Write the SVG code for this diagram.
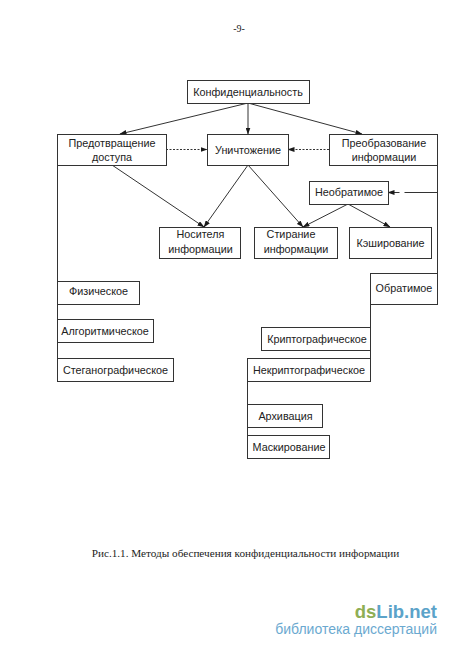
<svg xmlns="http://www.w3.org/2000/svg" width="450" height="650" viewBox="0 0 450 650">
<style>
.b{fill:#fff;stroke:#333;stroke-width:1}
.t{font-family:"Liberation Sans",Arial,sans-serif;font-size:10.800px;fill:#222;text-anchor:middle}
.s{font-family:"Liberation Serif","Times New Roman",serif;fill:#222;text-anchor:middle}
.l{fill:none;stroke:#333;stroke-width:1}
.d{stroke-dasharray:2 1.500}
</style>
<defs>
<marker id="a" markerWidth="7" markerHeight="5" refX="6.500" refY="2.500" orient="auto" markerUnits="userSpaceOnUse"><path d="M0 0L7 2.500L0 5Z" fill="#1a1a1a"/></marker>
</defs>
<rect width="450" height="650" fill="#fff"/>
<text class="s" x="239" y="32" font-size="10">-9-</text>
<g id="connectors">
<path class="l" marker-end="url(#a)" d="M248 103L120 134"/>
<path class="l" marker-end="url(#a)" d="M248 103V134"/>
<path class="l" marker-end="url(#a)" d="M248 103L362 134"/>
<path class="l d" marker-end="url(#a)" d="M166 149.500H207"/>
<path class="l d" marker-end="url(#a)" d="M329 149.500H288"/>
<path class="l" marker-end="url(#a)" d="M112 165L204 227"/>
<path class="l" marker-end="url(#a)" d="M248 165L204 227"/>
<path class="l" marker-end="url(#a)" d="M248 165L303 227"/>
<path class="l" marker-end="url(#a)" d="M348 204L303 227"/>
<path class="l" marker-end="url(#a)" d="M348 204L390 227"/>
<path class="l" stroke-dasharray="33 5 11" marker-end="url(#a)" d="M437.500 192.500H388"/>
<path class="l" d="M57.500 165V358M437.500 165V273M370.500 304V358M247.500 381V436"/>
</g>
<g id="n-conf"><rect class="b" x="187.500" y="80.500" width="122" height="23"/><text class="t" x="248" y="96">Конфиденциальность</text></g>
<g id="n-pred"><rect class="b" x="57.500" y="134.500" width="109" height="31"/><text class="t" x="112" y="146.500">Предотвращение</text><text class="t" x="112" y="160.500">доступа</text></g>
<g id="n-unich"><rect class="b" x="207.500" y="134.500" width="81" height="31"/><text class="t" x="248" y="153.500">Уничтожение</text></g>
<g id="n-preob"><rect class="b" x="329.500" y="134.500" width="108" height="31"/><text class="t" x="384" y="146.500">Преобразование</text><text class="t" x="384" y="160.500">информации</text></g>
<g id="n-neobr"><rect class="b" x="309.500" y="181.500" width="79" height="23"/><text class="t" x="349" y="196">Необратимое</text></g>
<g id="n-nos"><rect class="b" x="159.500" y="227.500" width="81" height="31"/><text class="t" x="200.500" y="238">Носителя</text><text class="t" x="200.500" y="253">информации</text></g>
<g id="n-stir"><rect class="b" x="254.500" y="227.500" width="83" height="31"/><text class="t" x="291" y="238">Стирание</text><text class="t" x="296" y="253">информации</text></g>
<g id="n-kesh"><rect class="b" x="349.500" y="227.500" width="82" height="31"/><text class="t" x="390.500" y="246.500">Кэширование</text></g>
<g id="n-fiz"><rect class="b" x="57.500" y="281.500" width="82" height="23"/><text class="t" x="98.500" y="295">Физическое</text></g>
<g id="n-alg"><rect class="b" x="57.500" y="319.500" width="96" height="23"/><text class="t" x="105" y="334.500">Алгоритмическое</text></g>
<g id="n-steg"><rect class="b" x="57.500" y="358.500" width="116" height="23"/><text class="t" x="115.500" y="374">Стеганографическое</text></g>
<g id="n-obr"><rect class="b" x="370.500" y="273.500" width="67" height="31"/><text class="t" x="404" y="292">Обратимое</text></g>
<g id="n-kript"><rect class="b" x="261.500" y="327.500" width="109" height="23"/><text class="t" x="317" y="343">Криптографическое</text></g>
<g id="n-nekr"><rect class="b" x="247.500" y="358.500" width="123" height="23"/><text class="t" x="309" y="374">Некриптографическое</text></g>
<g id="n-arh"><rect class="b" x="247.500" y="404.500" width="75" height="23"/><text class="t" x="285.500" y="420">Архивация</text></g>
<g id="n-mask"><rect class="b" x="247.500" y="435.500" width="82" height="23"/><text class="t" x="289" y="451">Маскирование</text></g>
<text class="s" x="245.500" y="557" font-size="11.200">Рис.1.1. Методы обеспечения конфиденциальности информации</text>
<g font-family="'Liberation Sans',sans-serif">
<text x="437" y="618" text-anchor="end" font-size="18.500" font-weight="700" fill="#5ba3c9"><tspan fill="#8fae54">ds</tspan>Lib.net</text>
<text x="437" y="634" text-anchor="end" font-size="14" fill="#6ba9d0">библиотека диссертаций</text>
</g>
</svg>
